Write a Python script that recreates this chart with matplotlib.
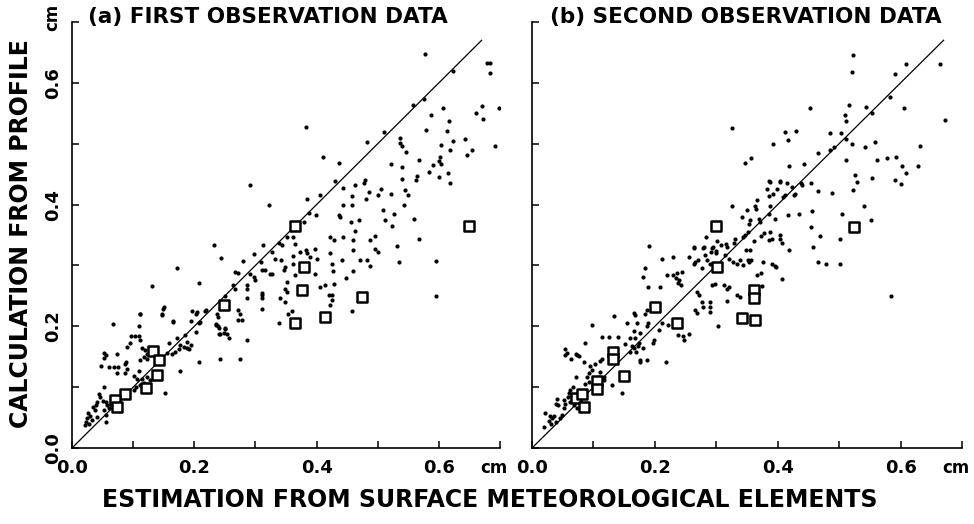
import numpy as np
import matplotlib
matplotlib.use("Agg")
import matplotlib.pyplot as plt

plt.rcParams['font.family'] = ['DejaVu Sans']
plt.rcParams['font.weight'] = 'bold'

# (a) first observation data: estimation (x) vs profile calculation (y), cm
dots_a = [
    (0.577, 0.647), (0.679, 0.632), (0.683, 0.632), (0.684, 0.616), (0.623, 0.619),
    (0.557, 0.564), (0.575, 0.574), (0.606, 0.559), (0.587, 0.547), (0.671, 0.562),
    (0.698, 0.559), (0.661, 0.550), (0.672, 0.540), (0.616, 0.537), (0.579, 0.522),
    (0.614, 0.521), (0.510, 0.520), (0.482, 0.502), (0.537, 0.509), (0.536, 0.501),
    (0.540, 0.496), (0.623, 0.505), (0.643, 0.507), (0.603, 0.498), (0.547, 0.487),
    (0.619, 0.489), (0.654, 0.490), (0.646, 0.482), (0.692, 0.496), (0.436, 0.469),
    (0.522, 0.467), (0.567, 0.474), (0.540, 0.462), (0.602, 0.478), (0.601, 0.472),
    (0.590, 0.465), (0.603, 0.467), (0.584, 0.454), (0.615, 0.452), (0.600, 0.445),
    (0.618, 0.436), (0.430, 0.439), (0.540, 0.442), (0.564, 0.447), (0.563, 0.440),
    (0.443, 0.428), (0.463, 0.432), (0.477, 0.436), (0.479, 0.440), (0.505, 0.426),
    (0.486, 0.420), (0.458, 0.414), (0.522, 0.418), (0.545, 0.424), (0.550, 0.416),
    (0.481, 0.409), (0.501, 0.415), (0.444, 0.399), (0.458, 0.400), (0.436, 0.383),
    (0.438, 0.380), (0.508, 0.391), (0.526, 0.385), (0.543, 0.400), (0.470, 0.374),
    (0.456, 0.371), (0.512, 0.374), (0.524, 0.365), (0.559, 0.376), (0.463, 0.357),
    (0.444, 0.347), (0.460, 0.341), (0.422, 0.347), (0.428, 0.341), (0.496, 0.348),
    (0.488, 0.341), (0.567, 0.344), (0.531, 0.332), (0.460, 0.325), (0.422, 0.320),
    (0.495, 0.327), (0.501, 0.322), (0.441, 0.309), (0.471, 0.309), (0.482, 0.309),
    (0.488, 0.299), (0.534, 0.305), (0.595, 0.308), (0.425, 0.302), (0.427, 0.291),
    (0.459, 0.291), (0.448, 0.280), (0.428, 0.270), (0.425, 0.252), (0.425, 0.243),
    (0.458, 0.225), (0.595, 0.250), (0.383, 0.528), (0.410, 0.478),
    (0.291, 0.432), (0.323, 0.400), (0.385, 0.409), (0.405, 0.415), (0.388, 0.386),
    (0.399, 0.383), (0.380, 0.372), (0.233, 0.333), (0.243, 0.313), (0.338, 0.337),
    (0.343, 0.333), (0.351, 0.347), (0.362, 0.347), (0.365, 0.335), (0.313, 0.333),
    (0.297, 0.318), (0.327, 0.322), (0.332, 0.311), (0.342, 0.309), (0.279, 0.308),
    (0.309, 0.306), (0.361, 0.315), (0.373, 0.322), (0.383, 0.325), (0.384, 0.320),
    (0.398, 0.327), (0.390, 0.314), (0.400, 0.310), (0.362, 0.302), (0.267, 0.289),
    (0.272, 0.288), (0.291, 0.286), (0.297, 0.281), (0.300, 0.276), (0.310, 0.293),
    (0.316, 0.293), (0.324, 0.286), (0.327, 0.286), (0.346, 0.292), (0.349, 0.298),
    (0.365, 0.284), (0.351, 0.273), (0.349, 0.262), (0.352, 0.257), (0.398, 0.286),
    (0.406, 0.265), (0.414, 0.268), (0.420, 0.251), (0.263, 0.268), (0.267, 0.262),
    (0.286, 0.268), (0.286, 0.261), (0.310, 0.251), (0.310, 0.246), (0.286, 0.246),
    (0.250, 0.250), (0.218, 0.225), (0.209, 0.207), (0.237, 0.221), (0.239, 0.216),
    (0.236, 0.204), (0.238, 0.200), (0.250, 0.197), (0.248, 0.189), (0.256, 0.180),
    (0.242, 0.188), (0.272, 0.227), (0.275, 0.220), (0.272, 0.210), (0.278, 0.210),
    (0.286, 0.178), (0.310, 0.229), (0.338, 0.205), (0.354, 0.221), (0.360, 0.225),
    (0.340, 0.246), (0.349, 0.240), (0.242, 0.147), (0.275, 0.147),
    (0.171, 0.295), (0.131, 0.266), (0.207, 0.271), (0.149, 0.229), (0.148, 0.220),
    (0.067, 0.203), (0.111, 0.221), (0.196, 0.225), (0.204, 0.224), (0.166, 0.208),
    (0.194, 0.208), (0.208, 0.141), (0.177, 0.126), (0.152, 0.091), (0.310, 0.254),
    (0.422, 0.235), (0.150, 0.231), (0.147, 0.219), (0.112, 0.220), (0.109, 0.200),
    (0.165, 0.207), (0.203, 0.220), (0.219, 0.226), (0.208, 0.205), (0.203, 0.191),
    (0.236, 0.202), (0.240, 0.198), (0.240, 0.187), (0.251, 0.195), (0.254, 0.188),
    (0.097, 0.184), (0.103, 0.184), (0.109, 0.184), (0.095, 0.173), (0.112, 0.178),
    (0.172, 0.181), (0.184, 0.185), (0.188, 0.175), (0.158, 0.173), (0.177, 0.169),
    (0.183, 0.166), (0.188, 0.164), (0.194, 0.169), (0.191, 0.162), (0.175, 0.162),
    (0.169, 0.158), (0.164, 0.155), (0.155, 0.156), (0.053, 0.156), (0.056, 0.153),
    (0.052, 0.148), (0.074, 0.154), (0.115, 0.165), (0.119, 0.161), (0.123, 0.155),
    (0.128, 0.158), (0.090, 0.166), (0.088, 0.142), (0.087, 0.138), (0.048, 0.135),
    (0.060, 0.133), (0.068, 0.133), (0.076, 0.133), (0.112, 0.144), (0.117, 0.150),
    (0.123, 0.147), (0.074, 0.124), (0.090, 0.129), (0.087, 0.124), (0.101, 0.118),
    (0.106, 0.114), (0.109, 0.127), (0.115, 0.114), (0.117, 0.107), (0.112, 0.104),
    (0.105, 0.101), (0.101, 0.095), (0.123, 0.116), (0.127, 0.111), (0.053, 0.100),
    (0.044, 0.089), (0.046, 0.084), (0.050, 0.078), (0.041, 0.076), (0.039, 0.070),
    (0.035, 0.068), (0.038, 0.063), (0.055, 0.076), (0.057, 0.070), (0.063, 0.081),
    (0.060, 0.065), (0.052, 0.062), (0.056, 0.054), (0.064, 0.073), (0.026, 0.057),
    (0.030, 0.053), (0.025, 0.049), (0.023, 0.043), (0.021, 0.038), (0.027, 0.040),
    (0.033, 0.046), (0.055, 0.043), (0.041, 0.051),
]
squares_a = [
    (0.133, 0.159), (0.142, 0.145), (0.139, 0.120), (0.121, 0.098), (0.087, 0.088),
    (0.070, 0.079), (0.073, 0.067), (0.249, 0.235), (0.364, 0.365), (0.380, 0.297),
    (0.376, 0.260), (0.364, 0.206), (0.414, 0.216), (0.474, 0.248), (0.650, 0.365),
]

# (b) second observation data
dots_b = [
    (0.523, 0.645), (0.521, 0.618), (0.609, 0.631), (0.591, 0.615), (0.664, 0.631),
    (0.452, 0.559), (0.516, 0.563), (0.544, 0.560), (0.509, 0.547), (0.511, 0.537),
    (0.553, 0.551), (0.583, 0.576), (0.606, 0.558), (0.672, 0.539), (0.412, 0.519),
    (0.430, 0.521), (0.417, 0.506), (0.485, 0.517), (0.503, 0.517), (0.511, 0.507),
    (0.521, 0.500), (0.491, 0.495), (0.485, 0.489), (0.466, 0.484), (0.542, 0.494),
    (0.558, 0.503), (0.632, 0.496), (0.511, 0.473), (0.561, 0.473), (0.578, 0.477),
    (0.592, 0.478), (0.602, 0.464), (0.628, 0.463), (0.609, 0.452), (0.419, 0.463),
    (0.442, 0.466), (0.526, 0.448), (0.529, 0.437), (0.553, 0.444), (0.591, 0.440),
    (0.601, 0.433), (0.404, 0.437), (0.415, 0.436), (0.423, 0.429), (0.428, 0.418),
    (0.438, 0.435), (0.439, 0.432), (0.454, 0.435), (0.466, 0.422), (0.488, 0.419),
    (0.522, 0.424), (0.409, 0.413), (0.412, 0.415), (0.426, 0.415), (0.417, 0.383),
    (0.435, 0.384), (0.456, 0.389), (0.504, 0.384), (0.540, 0.398), (0.552, 0.374),
    (0.454, 0.363), (0.469, 0.348), (0.502, 0.343), (0.404, 0.350), (0.404, 0.344),
    (0.457, 0.331), (0.419, 0.325), (0.466, 0.306), (0.478, 0.303), (0.502, 0.302),
    (0.407, 0.277), (0.584, 0.250),
    (0.347, 0.468), (0.385, 0.439), (0.403, 0.439), (0.383, 0.425), (0.399, 0.426),
    (0.385, 0.414), (0.393, 0.418), (0.367, 0.407), (0.363, 0.397), (0.365, 0.392),
    (0.325, 0.397), (0.388, 0.397), (0.342, 0.380), (0.355, 0.374), (0.354, 0.368),
    (0.369, 0.377), (0.371, 0.372), (0.385, 0.385), (0.396, 0.377), (0.351, 0.355),
    (0.373, 0.348), (0.388, 0.355), (0.390, 0.344), (0.385, 0.342), (0.283, 0.346),
    (0.301, 0.340), (0.316, 0.336), (0.318, 0.330), (0.331, 0.344), (0.329, 0.337),
    (0.344, 0.347), (0.349, 0.325), (0.355, 0.325), (0.362, 0.340), (0.295, 0.330),
    (0.291, 0.322), (0.300, 0.320), (0.278, 0.328), (0.263, 0.330), (0.314, 0.317),
    (0.320, 0.311), (0.328, 0.306), (0.333, 0.303), (0.339, 0.309), (0.344, 0.300),
    (0.352, 0.309), (0.354, 0.306), (0.357, 0.309), (0.376, 0.306), (0.390, 0.303),
    (0.396, 0.299), (0.398, 0.297), (0.367, 0.284), (0.373, 0.288), (0.285, 0.309),
    (0.290, 0.303), (0.282, 0.317), (0.265, 0.306), (0.263, 0.303), (0.271, 0.309),
    (0.276, 0.295), (0.256, 0.314), (0.230, 0.314), (0.211, 0.310), (0.244, 0.289),
    (0.219, 0.284), (0.230, 0.284), (0.236, 0.287), (0.235, 0.279), (0.240, 0.276),
    (0.242, 0.268), (0.238, 0.271), (0.208, 0.265), (0.189, 0.265), (0.184, 0.295),
    (0.181, 0.281), (0.191, 0.332), (0.293, 0.268), (0.298, 0.269), (0.312, 0.268),
    (0.317, 0.262), (0.320, 0.265), (0.268, 0.257), (0.272, 0.251), (0.333, 0.251),
    (0.339, 0.248), (0.318, 0.242), (0.276, 0.240), (0.278, 0.232), (0.290, 0.240),
    (0.290, 0.232), (0.290, 0.224), (0.265, 0.227), (0.268, 0.222), (0.374, 0.266),
    (0.302, 0.201), (0.187, 0.227), (0.184, 0.221), (0.189, 0.205), (0.187, 0.200),
    (0.211, 0.206), (0.222, 0.202), (0.207, 0.194), (0.237, 0.186), (0.245, 0.184),
    (0.256, 0.188), (0.248, 0.177), (0.198, 0.177), (0.197, 0.172), (0.180, 0.164),
    (0.176, 0.145), (0.188, 0.145), (0.218, 0.142),
    (0.326, 0.526), (0.356, 0.477), (0.393, 0.499), (0.350, 0.391), (0.347, 0.350),
    (0.377, 0.353), (0.407, 0.337), (0.388, 0.437), (0.307, 0.333), (0.300, 0.324),
    (0.293, 0.328), (0.264, 0.328), (0.280, 0.330),
    (0.133, 0.217), (0.166, 0.222), (0.167, 0.218), (0.097, 0.202), (0.155, 0.206),
    (0.171, 0.206), (0.166, 0.193), (0.114, 0.182), (0.125, 0.182), (0.140, 0.182),
    (0.087, 0.173), (0.160, 0.180), (0.168, 0.180), (0.151, 0.171), (0.176, 0.189),
    (0.174, 0.173), (0.054, 0.162), (0.057, 0.156), (0.053, 0.153), (0.071, 0.155),
    (0.073, 0.153), (0.076, 0.151), (0.064, 0.146), (0.084, 0.142), (0.114, 0.147),
    (0.111, 0.143), (0.162, 0.167), (0.166, 0.164), (0.173, 0.168), (0.169, 0.158),
    (0.159, 0.158), (0.175, 0.142), (0.095, 0.134), (0.098, 0.128), (0.092, 0.124),
    (0.103, 0.138), (0.111, 0.125), (0.109, 0.117), (0.090, 0.116), (0.093, 0.109),
    (0.087, 0.105), (0.117, 0.117), (0.118, 0.112), (0.071, 0.116), (0.066, 0.100),
    (0.062, 0.095), (0.060, 0.091), (0.065, 0.085), (0.059, 0.083), (0.052, 0.079),
    (0.054, 0.073), (0.062, 0.076), (0.076, 0.079), (0.068, 0.070), (0.073, 0.065),
    (0.041, 0.080), (0.039, 0.073), (0.042, 0.070), (0.021, 0.057), (0.030, 0.052),
    (0.033, 0.049), (0.035, 0.053), (0.027, 0.045), (0.031, 0.040), (0.039, 0.043),
    (0.046, 0.049), (0.049, 0.054), (0.019, 0.035), (0.052, 0.065), (0.131, 0.103),
    (0.147, 0.091),
]
squares_b = [
    (0.132, 0.157), (0.132, 0.146), (0.150, 0.119), (0.105, 0.110), (0.105, 0.097),
    (0.071, 0.082), (0.081, 0.089), (0.084, 0.068), (0.201, 0.232), (0.236, 0.206),
    (0.300, 0.365), (0.301, 0.298), (0.362, 0.259), (0.361, 0.247), (0.342, 0.213),
    (0.363, 0.210), (0.524, 0.363),
]

major_ticks = [0.0, 0.2, 0.4, 0.6]
minor_ticks = [0.1, 0.3, 0.5, 0.7]
tick_labels = ["0.0", "0.2", "0.4", "0.6"]
line_end = 0.67
lim = 0.70


def draw_panel(ax, dots, squares, show_ylabels):
    dx, dy = zip(*dots)
    sx, sy = zip(*squares)
    ax.plot([0, line_end], [0, line_end], color='black', lw=0.9, zorder=1)
    ax.scatter(dx, dy, s=9, marker='o', color='black', linewidths=0, zorder=2)
    ax.scatter(sx, sy, s=45, marker='s', facecolor='white', edgecolor='black',
               linewidths=1.8, zorder=3)
    ax.set_xlim(0, lim)
    ax.set_ylim(0, lim)
    for side in ['top', 'right']:
        ax.spines[side].set_visible(False)
    for side in ['left', 'bottom']:
        ax.spines[side].set_linewidth(1.2)
    ax.set_xticks(major_ticks)
    ax.set_xticks(minor_ticks, minor=True)
    ax.set_yticks(major_ticks)
    ax.set_yticks(minor_ticks, minor=True)
    ax.set_xticklabels(tick_labels, fontsize=13, fontweight='bold')
    if show_ylabels:
        ax.set_yticklabels(tick_labels, fontsize=13, fontweight='bold',
                           rotation=90, va='center')
    else:
        ax.set_yticklabels([])
    ax.tick_params(which='both', direction='in', length=5, width=1.1)
    ax.tick_params(axis='x', pad=8)
    ax.tick_params(axis='y', pad=7)
    ax.text(0.690, -0.047, "cm", transform=ax.get_xaxis_transform(),
            ha='center', va='center', fontsize=12, fontweight='bold')


fig = plt.figure(figsize=(9.74, 5.24), dpi=100)
ax_a = fig.add_axes([72 / 974, 76 / 524, 428 / 974, 426 / 524])
ax_b = fig.add_axes([532 / 974, 76 / 524, 430 / 974, 426 / 524])

draw_panel(ax_a, dots_a, squares_a, True)
draw_panel(ax_b, dots_b, squares_b, False)

ax_a.text(-0.045, 0.708, "cm", transform=ax_a.get_yaxis_transform(),
          rotation=90, ha='center', va='center', fontsize=12, fontweight='bold')

fig.text(88 / 974, 1 - 17 / 524, "(a) FIRST OBSERVATION DATA",
         ha='left', va='center', fontsize=15.5, fontweight='bold')
fig.text(550 / 974, 1 - 17 / 524, "(b) SECOND OBSERVATION DATA",
         ha='left', va='center', fontsize=15.5, fontweight='bold')
fig.text(21 / 974, 1 - 234 / 524, "CALCULATION FROM PROFILE",
         rotation=90, ha='center', va='center', fontsize=17, fontweight='bold')
fig.text(490 / 974, 1 - 500 / 524, "ESTIMATION FROM SURFACE METEOROLOGICAL ELEMENTS",
         ha='center', va='center', fontsize=17, fontweight='bold')

fig.savefig("out.png", dpi=100)
